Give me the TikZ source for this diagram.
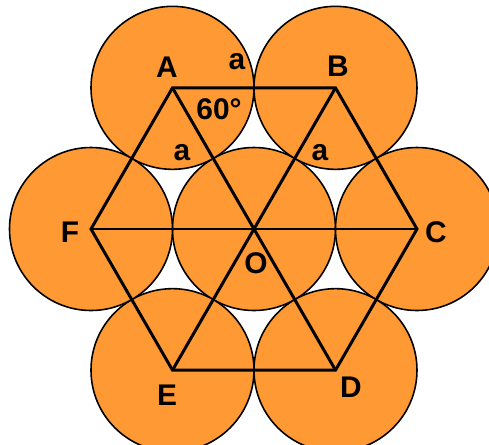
\documentclass[tikz,border=0pt]{standalone}
\usepackage{fontspec}
\setmainfont{Liberation Sans}
\usepackage{tikz}
\usetikzlibrary{positioning}
\definecolor{disc}{HTML}{FF9933}

\begin{document}
\begin{tikzpicture}[
        discnode/.style={circle, draw=black, fill=disc, line width=0.9pt,
        minimum size=3.26cm, inner sep=0pt},
        edge/.style={line width=1.7pt, line join=miter},
        lbl/.style={font=\fontsize{17}{20}\selectfont\bfseries, inner sep=0pt},
      ]
      \useasboundingbox (-5.08,-4.30) rectangle (4.70,4.58);
      \clip (-5.08,-4.30) rectangle (4.70,4.58);

      % Corners of the hexagon, centre O
      \coordinate (O) at (0,0);
      \coordinate (A) at (120:3.26);
      \coordinate (B) at (60:3.26);
      \coordinate (C) at (0:3.26);
      \coordinate (D) at (-60:3.26);
      \coordinate (E) at (-120:3.26);
      \coordinate (F) at (180:3.26);

      % Seven touching discs
      \node[discnode] (dO) at (O) {};
      \node[discnode] (dA) at (A) {};
      \node[discnode] (dB) at (B) {};
      \node[discnode] (dC) at (C) {};
      \node[discnode] (dD) at (D) {};
      \node[discnode] (dE) at (E) {};
      \node[discnode] (dF) at (F) {};

      % Hexagon and its diagonals
      \draw[edge] (A) -- (B) -- (C) -- (D) -- (E) -- (F) -- cycle;
      \draw[edge] (A) -- (D);
      \draw[edge] (B) -- (E);
      \draw[edge] (F) -- (C);

      % Labels
      \node[lbl] (lA) at (-1.74, 3.24) {A};
      \node[lbl] (lB) at (1.68, 3.26) {B};
      \node[lbl] (lC) at (3.64, -0.06) {C};
      \node[lbl] (lD) at (1.94, -3.16) {D};
      \node[lbl] (lE) at (-1.74, -3.32) {E};
      \node[lbl] (lF) at (-3.68, -0.06) {F};
      \node[lbl] (lO) at (0.04, -0.68) {O};
      \node[lbl] (ang) at (-0.70, 2.40) {60°};
      \node[lbl] (a1) at (-0.34, 3.34) {a};
      \node[lbl] (a2) at (-1.44, 1.52) {a};
      \node[lbl] (a3) at (1.32, 1.52) {a};
    \end{tikzpicture}
\end{document}
